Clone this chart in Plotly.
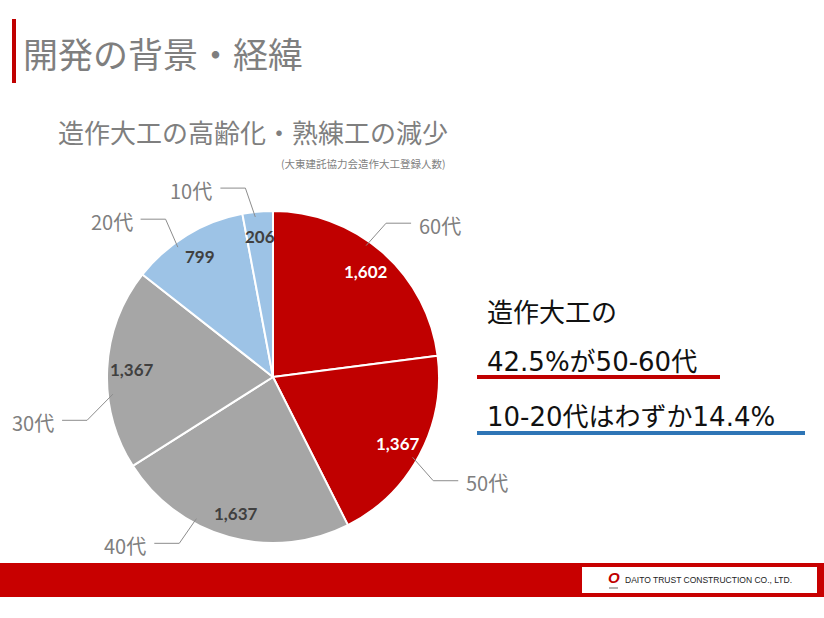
import math
import plotly.graph_objects as go

# data (registered carpenters by age group)
ages = ["60代", "50代", "40代", "30代", "20代", "10代"]
counts = [1602, 1367, 1637, 1367, 799, 206]
colors = ["#C00000", "#C00000", "#A6A6A6", "#A6A6A6", "#9DC3E6", "#9DC3E6"]
value_colors = ["white", "white", "#404040", "#404040", "#404040", "#404040"]

# leader-line nudges (degrees from each slice's mid angle): start, elbow
lead_start = [-6, 2, 13, -9, -5, -1]
lead_elbow = [-5, 5, 14, -16, -3, -3]

W, H = 824, 618
CX, CY, R = 273, 377, 166   # pie centre and radius in pixels

def px(x):
    return x / W

def py(y):
    return 1 - y / H

def polar(angle, k):
    return CX + k * R * math.sin(angle), CY - k * R * math.cos(angle)

def note(x, y, text, size, color, family="Noto Sans CJK JP", xanchor="center"):
    return dict(x=px(x), y=py(y), xref="paper", yref="paper", text=text,
                showarrow=False, xanchor=xanchor, yanchor="middle",
                font=dict(family=family, size=size, color=color))

fig = go.Figure()

fig.add_trace(go.Pie(
    labels=ages, values=counts, sort=False, direction="clockwise",
    marker=dict(colors=colors, line=dict(color="white", width=2)),
    textinfo="none", hoverinfo="label+value", showlegend=False,
    domain=dict(x=[px(CX - R), px(CX + R)], y=[py(CY + R), py(CY - R)]),
))

annotations = []
shapes = []

# value labels and leader lines, placed from each slice's mid angle
total = sum(counts)
cum = 0
for i, (age, n, vc) in enumerate(zip(ages, counts, value_colors)):
    mid = (cum + n / 2) / total * 2 * math.pi
    cum += n
    vx, vy = polar(mid, 0.85)
    annotations.append(note(vx, vy, f"<b>{n:,}</b>", 17, vc, family="Lato, Noto Sans"))
    x0, y0 = polar(mid + math.radians(lead_start[i]), 0.97)
    x1, y1 = polar(mid + math.radians(lead_elbow[i]), 1.15)
    side = 1 if x1 >= CX else -1
    x2 = x1 + side * 25
    shapes.append(dict(
        type="path", xref="paper", yref="paper",
        path=f"M {px(x0)},{py(y0)} L {px(x1)},{py(y1)} L {px(x2)},{py(y1)}",
        line=dict(color="#8C8C8C", width=1),
    ))
    annotations.append(note(x2 + side * 6, y1 + 2, age, 20, "#7F7F7F",
                            xanchor="left" if side > 0 else "right"))

# title block
shapes.append(dict(type="rect", xref="paper", yref="paper",
                   x0=px(12), x1=px(16), y0=py(83), y1=py(19),
                   fillcolor="#C00000", line=dict(width=0)))
annotations.append(note(21, 52, "開発の背景・経緯", 35, "#7F7F7F", xanchor="left"))
annotations.append(note(56, 131, "造作大工の高齢化・熟練工の減少", 26, "#7F7F7F", xanchor="left"))
annotations.append(note(448, 163, "(大東建託協力会造作大工登録人数)", 10.5, "#7F7F7F", xanchor="right"))

# call-out text on the right
callout = [("造作大工の", 313), ("42.5%が50-60代", 362), ("10-20代はわずか14.4%", 417)]
for txt, yy in callout:
    annotations.append(note(485, yy, txt, 26, "#111111",
                            family="DejaVu Sans, Noto Sans CJK JP", xanchor="left"))
shapes.append(dict(type="line", xref="paper", yref="paper",
                   x0=px(477), x1=px(720), y0=py(377), y1=py(377),
                   line=dict(color="#C00000", width=4)))
shapes.append(dict(type="line", xref="paper", yref="paper",
                   x0=px(477), x1=px(805), y0=py(433), y1=py(433),
                   line=dict(color="#2E75B6", width=4)))

# footer band with company logo box
shapes.append(dict(type="rect", xref="paper", yref="paper",
                   x0=0, x1=1, y0=py(597), y1=py(563),
                   fillcolor="#C80000", line=dict(width=0)))
shapes.append(dict(type="rect", xref="paper", yref="paper",
                   x0=px(582), x1=px(817), y0=py(593), y1=py(567),
                   fillcolor="white", line=dict(width=0)))
shapes.append(dict(type="line", xref="paper", yref="paper",
                   x0=px(609), x1=px(618), y0=py(588), y1=py(588),
                   line=dict(color="#999999", width=1.5)))
annotations.append(note(614, 577, "<b><i>O</i></b>", 15, "#C00000", family="Liberation Sans"))
annotations.append(note(623, 580, "DAITO TRUST CONSTRUCTION CO., LTD.", 8.5, "#222222",
                        family="Liberation Sans", xanchor="left"))

fig.update_layout(
    width=W, height=H, margin=dict(l=0, r=0, t=0, b=0),
    paper_bgcolor="white", plot_bgcolor="white",
    annotations=annotations, shapes=shapes,
)

fig.write_html("out.html", config={"displayModeBar": False},
               post_script="document.body.style.margin='0';")
